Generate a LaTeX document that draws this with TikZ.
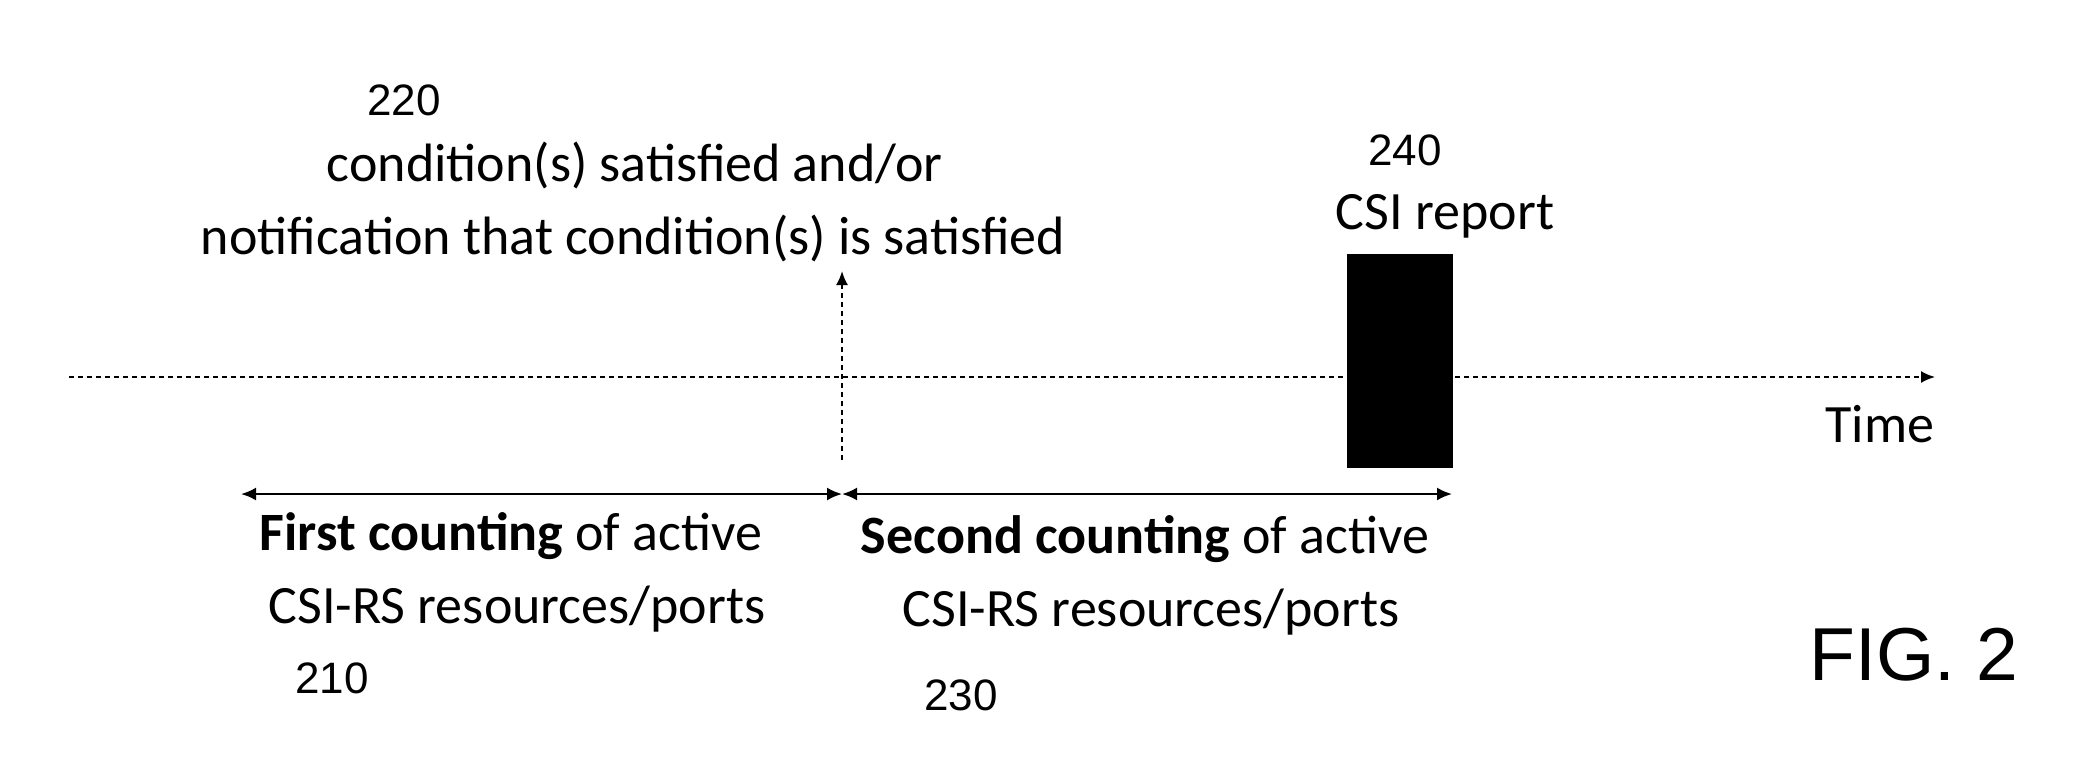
\documentclass[tikz,border=0pt]{standalone}
\usepackage{fontspec}
\setmainfont{Carlito}
\newfontfamily\numfont{Liberation Sans}
\usetikzlibrary{arrows.meta}
\begin{document}
\begin{tikzpicture}[x=1pt,y=-1pt,
  lbl/.style={font=\fontsize{54}{73}\selectfont, inner sep=0pt, anchor=base},
  num/.style={font=\numfont\fontsize{44}{50}\selectfont, inner sep=0pt},
  tl/.style={line width=2pt, dash pattern=on 5pt off 4pt},
  span/.style={line width=2.2pt, {Latex[length=15pt,width=13pt]}-{Latex[length=15pt,width=13pt]}},
  tip/.style={-{Latex[length=14pt,width=12pt]}},
]
\useasboundingbox (0,0) rectangle (2075,766);

% timeline
\coordinate (t0) at (69,377);
\coordinate (t1) at (1935,377);
\draw[tl, tip] (t0) -- (t1);

% CSI report box
\node[fill=black, draw=black, minimum width=105pt, minimum height=213pt, inner sep=0pt, anchor=north west] (rep) at (1347,254) {};

% condition arrow
\coordinate (v0) at (842,460);
\coordinate (v1) at (842,271);
\draw[tl, tip] (v0) -- (v1);

% counting spans
\coordinate (a0) at (241,494);
\coordinate (a1) at (842,494);
\coordinate (a2) at (1452,494);
\draw[span] (a0) -- (a1);
\draw[span] (a1) -- (a2);

% labels
\node[num] (n220) at (404,100) {220};
\node[lbl] (c1) at (635,181) {condition(s) satisfied and/or};
\node[lbl] (c2) at (633,254) {notification that condition(s) is satisfied};

\node[num] (n240) at (1405,150) {240};
\node[lbl] (csi) at (1445,229) {CSI report};

\node[lbl] (time) at (1880,442) {Time};

\node[lbl] (f1) at (511,550) {\textbf{First counting} of active};
\node[lbl] (f2) at (517,623) {CSI-RS resources/ports};
\node[num] (n210) at (332,678) {210};

\node[lbl] (s1) at (1145,553) {\textbf{Second counting} of active};
\node[lbl] (s2) at (1151,626) {CSI-RS resources/ports};
\node[num] (n230) at (961,695) {230};

\node[font=\numfont\fontsize{75}{80}\selectfont, inner sep=0pt] (fig) at (1914,655) {FIG. 2};
\end{tikzpicture}
\end{document}
